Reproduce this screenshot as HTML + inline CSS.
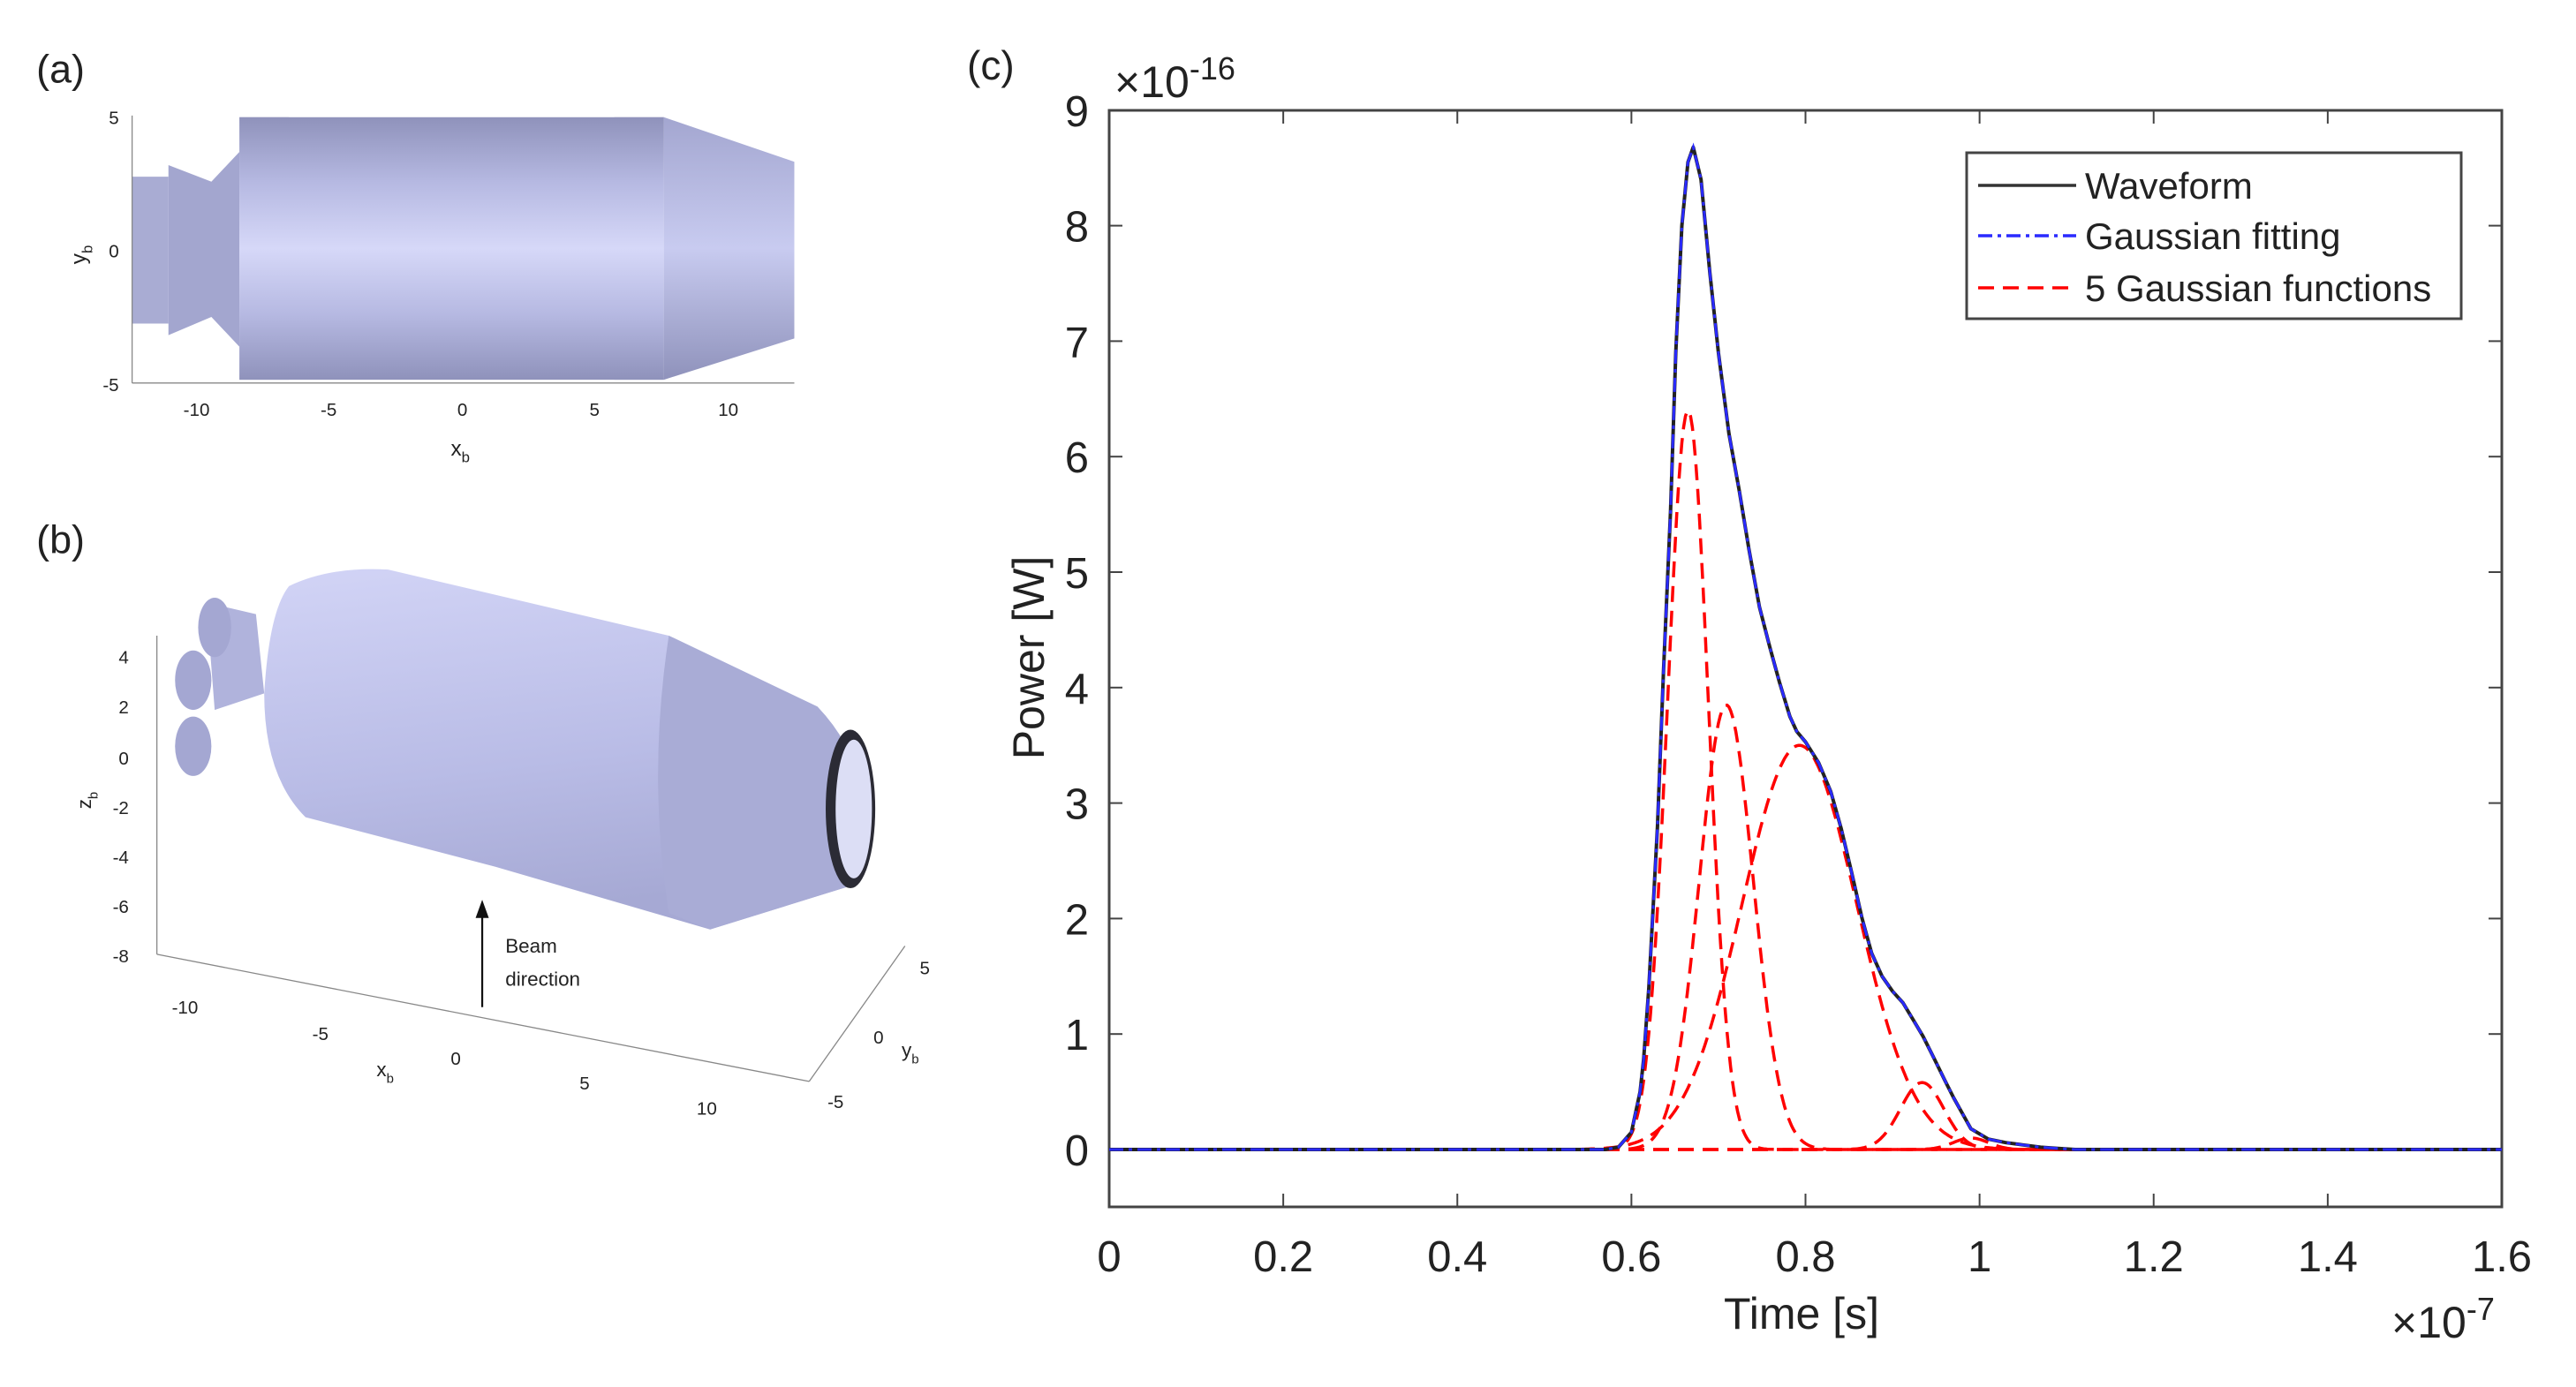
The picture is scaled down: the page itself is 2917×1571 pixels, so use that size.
<!DOCTYPE html>
<html><head><meta charset="utf-8"><style>
html,body{margin:0;padding:0;background:#fff;}
svg{display:block;font-family:"Liberation Sans",Arial,sans-serif;}
</style></head><body>
<svg id="fig" width="2917" height="1571" viewBox="0 0 2917 1571">
<defs>
  <linearGradient id="cylA" x1="0" y1="0" x2="0" y2="1">
    <stop offset="0" stop-color="#8f92bb"/><stop offset="0.25" stop-color="#b6b9e2"/><stop offset="0.5" stop-color="#d6d8f8"/><stop offset="0.75" stop-color="#b6b9e2"/><stop offset="1" stop-color="#8f92bb"/>
  </linearGradient>
  <linearGradient id="coneA" x1="0" y1="0" x2="0" y2="1">
    <stop offset="0" stop-color="#a3a6d0"/><stop offset="0.5" stop-color="#c8cbf0"/><stop offset="1" stop-color="#8f92bb"/>
  </linearGradient>
  <linearGradient id="cylB" x1="0" y1="0" x2="0.2" y2="1">
    <stop offset="0" stop-color="#d2d4f6"/><stop offset="0.6" stop-color="#b9bce6"/><stop offset="1" stop-color="#a6a9d4"/>
  </linearGradient>
</defs>
<rect width="2917" height="1571" fill="#fff"/>
<g transform="scale(1.87)">
  <text x="22" y="50" font-size="24" fill="#222">(a)</text>
  <g>
    <path d="M80,107 L102,107 L102,196 L80,196 Z" fill="#a9acd3"/>
    <path d="M102,100 L128,110 L145,92 L145,210 L128,192 L102,203 Z" fill="#a3a6cf"/>
    <rect x="145" y="71" width="257" height="159" fill="url(#cylA)"/>
    <rect x="145" y="71" width="30" height="159" fill="url(#cylA)" opacity="0.7"/>
    <rect x="372" y="71" width="30" height="159" fill="url(#cylA)" opacity="0.7"/>
    <path d="M402,71 L481,98 L481,205 L402,230 Z" fill="url(#coneA)"/>
    <line x1="80" y1="70" x2="80" y2="232" stroke="#888" stroke-width="0.7"/>
    <line x1="80" y1="232" x2="481" y2="232" stroke="#888" stroke-width="0.7"/>
    <g font-size="11" fill="#222" text-anchor="middle">
      <text x="119" y="252">-10</text><text x="199" y="252">-5</text><text x="280" y="252">0</text><text x="360" y="252">5</text><text x="441" y="252">10</text>
      <text x="72" y="75" text-anchor="end">5</text><text x="72" y="156" text-anchor="end">0</text><text x="72" y="237" text-anchor="end">-5</text>
    </g>
    <text x="273" y="276" font-size="13" fill="#222">x<tspan font-size="9" dy="4">b</tspan></text>
    <text transform="translate(52,160) rotate(-90)" font-size="13" fill="#222">y<tspan font-size="9" dy="4">b</tspan></text>
  </g>
  <text x="22" y="335" font-size="24" fill="#222">(b)</text>
  <g>
    <line x1="95" y1="385" x2="95" y2="578" stroke="#888" stroke-width="0.7"/>
    <line x1="95" y1="578" x2="490" y2="655" stroke="#888" stroke-width="0.7"/>
    <line x1="490" y1="655" x2="548" y2="573" stroke="#888" stroke-width="0.7"/>
    <g font-size="11" fill="#222" text-anchor="end">
      <text x="78" y="402">4</text><text x="78" y="432">2</text><text x="78" y="463">0</text><text x="78" y="493">-2</text><text x="78" y="523">-4</text><text x="78" y="553">-6</text><text x="78" y="583">-8</text>
    </g>
    <g font-size="11" fill="#222" text-anchor="middle">
      <text x="112" y="614">-10</text><text x="194" y="630">-5</text><text x="276" y="645">0</text><text x="354" y="660">5</text><text x="428" y="675">10</text>
      <text x="560" y="590">5</text><text x="532" y="632">0</text><text x="506" y="671">-5</text>
    </g>
    <text x="228" y="652" font-size="12" fill="#222">x<tspan font-size="8" dy="4">b</tspan></text>
    <text x="546" y="640" font-size="12" fill="#222">y<tspan font-size="8" dy="4">b</tspan></text>
    <text transform="translate(55,490) rotate(-90)" font-size="12" fill="#222">z<tspan font-size="8" dy="4">b</tspan></text>
    <g fill="#a4a7d2">
      <path d="M125,365 L155,372 L160,420 L130,430 Z" fill="#b0b3dc"/>
      <ellipse cx="130" cy="380" rx="10" ry="18"/><ellipse cx="117" cy="412" rx="11" ry="18"/><ellipse cx="117" cy="452" rx="11" ry="18"/>
    </g>
    <path d="M175,355 Q200,343 235,345 L405,385 L495,428 Q535,470 520,535 L430,563 L300,525 L185,495 Q160,470 160,420 Q163,370 175,355 Z" fill="url(#cylB)"/>
    <path d="M405,385 L495,428 Q535,470 520,535 L430,563 L405,553 Q392,470 405,385 Z" fill="#a9acd6"/>
    <ellipse cx="515" cy="490" rx="15" ry="48" fill="#2b2b35"/>
    <ellipse cx="517" cy="490" rx="11" ry="42" fill="#dcdef5"/>
    <line x1="292" y1="610" x2="292" y2="548" stroke="#111" stroke-width="1.2"/>
    <path d="M288,556 L292,545 L296,556 Z" fill="#111"/>
    <text x="306" y="577" font-size="12" fill="#222">Beam</text>
    <text x="306" y="597" font-size="12" fill="#222">direction</text>
  </g>
</g>
<text x="1095" y="90" font-size="46" fill="#222">(c)</text>
<g id="chart"></g>
</svg>
<script>
const xTicks = [0, 0.2, 0.4, 0.6, 0.8, 1, 1.2, 1.4, 1.6];
const xTickLabels = ["0","0.2","0.4","0.6","0.8","1","1.2","1.4","1.6"];
const yTicks = [0,1,2,3,4,5,6,7,8,9];
const yTickLabels = ["0","1","2","3","4","5","6","7","8","9"];
const waveT = [0,0.57,0.585,0.6,0.61,0.614,0.62,0.63,0.637,0.645,0.651,0.658,0.665,0.671,0.68,0.69,0.7,0.712,0.724,0.735,0.747,0.759,0.77,0.782,0.79,0.8,0.815,0.829,0.841,0.853,0.865,0.876,0.888,0.9,0.912,0.924,0.935,0.947,0.96,0.97,0.99,1.01,1.03,1.05,1.07,1.09,1.11,1.6];
const waveP = [0,0,0.02,0.15,0.5,0.78,1.4,2.8,4.16,5.53,6.9,8.0,8.55,8.68,8.4,7.6,6.9,6.2,5.7,5.2,4.7,4.35,4.05,3.75,3.62,3.53,3.35,3.1,2.78,2.4,2.0,1.7,1.5,1.37,1.27,1.12,0.98,0.8,0.6,0.45,0.18,0.09,0.06,0.04,0.02,0.01,0,0];
const gaussAmp = [6.4, 3.85, 3.5, 0.58, 0.1];
const gaussCenter = [0.665, 0.709, 0.793, 0.934, 0.99];
const gaussSigma = [0.0234, 0.031, 0.066, 0.025, 0.02];

const X0=1256, X1=2833, Y0=1302, YPX=130.8;
const sx = t => X0 + (t/1.6)*(X1-X0);
const sy = v => Y0 - v*YPX;
const NS='http://www.w3.org/2000/svg';
const g=document.getElementById('chart');
function mk(tag, attrs, parent){const e=document.createElementNS(NS,tag);for(const k in attrs)e.setAttribute(k,attrs[k]);(parent||g).appendChild(e);return e;}

const frame=mk('rect',{x:X0,y:125,width:X1-X0,height:1367-125,fill:'#fff',stroke:'#444','stroke-width':3});


xTicks.forEach((t,i)=>{
  mk('line',{x1:sx(t),y1:1367,x2:sx(t),y2:1352,stroke:'#444','stroke-width':2});
  mk('line',{x1:sx(t),y1:125,x2:sx(t),y2:140,stroke:'#444','stroke-width':2});
  const tx=mk('text',{x:sx(t),y:1440,'font-size':49,'text-anchor':'middle',fill:'#222'});
  tx.textContent=xTickLabels[i];
  
  
});
yTicks.forEach((v,i)=>{
  mk('line',{x1:X0,y1:sy(v),x2:X0+15,y2:sy(v),stroke:'#444','stroke-width':2});
  mk('line',{x1:X1,y1:sy(v),x2:X1-15,y2:sy(v),stroke:'#444','stroke-width':2});
  const ty=mk('text',{x:1233,y:sy(v)+18,'font-size':49,'text-anchor':'end',fill:'#222'});
  ty.textContent=yTickLabels[i];
  
  
});
const yl=mk('text',{transform:'translate(1182,745) rotate(-90)','font-size':50,'text-anchor':'middle',fill:'#222'});
yl.textContent='Power [W]';


const xl=mk('text',{x:2040,y:1505,'font-size':50,'text-anchor':'middle',fill:'#222'});
xl.textContent='Time [s]';


const ye=mk('text',{x:1262,y:110,'font-size':50,fill:'#222'});
ye.innerHTML='×10<tspan font-size="36" dy="-20">-16</tspan>';


const xe=mk('text',{x:2708,y:1515,'font-size':50,fill:'#222'});
xe.innerHTML='×10<tspan font-size="36" dy="-20">-7</tspan>';



const tGrid=[];for(let i=0;i<=800;i++)tGrid.push(i*1.6/800);
gaussAmp.forEach((a,k)=>{
  const d=tGrid.map((t,i)=>{const v=a*Math.exp(-((t-gaussCenter[k])**2)/(2*gaussSigma[k]**2));return (i?'L':'M')+sx(t).toFixed(1)+','+sy(v).toFixed(1);}).join('');
  const p=mk('path',{d:d,fill:'none',stroke:'#f00','stroke-width':3.5,'stroke-dasharray':'18,10'});
  
  
});
const wd=waveT.map((t,i)=>(i?'L':'M')+sx(t).toFixed(1)+','+sy(waveP[i]).toFixed(1)).join('');
const wp=mk('path',{d:wd,fill:'none',stroke:'#222','stroke-width':4,'stroke-linejoin':'round'});


const fp=mk('path',{d:wd,fill:'none',stroke:'#2a2aff','stroke-width':3,'stroke-dasharray':'16,6,4,6'});



const lg=mk('g',{});


mk('rect',{x:2227,y:173,width:560,height:188,fill:'#fff',stroke:'#444','stroke-width':3},lg);
const items=[['Waveform','#333','none',210],['Gaussian fitting','#2a2aff','16,6,4,6',267],['5 Gaussian functions','#f00','18,10',326]];
items.forEach((it,i)=>{
  const e=mk('g',{},lg);
  
  
  mk('line',{x1:2240,y1:it[3],x2:2351,y2:it[3],stroke:it[1],'stroke-width':3.5,'stroke-dasharray':it[2]},e);
  const t=mk('text',{x:2361,y:it[3]+15,'font-size':42,fill:'#222'},e);
  t.textContent=it[0];
});
</script>
</body></html>
